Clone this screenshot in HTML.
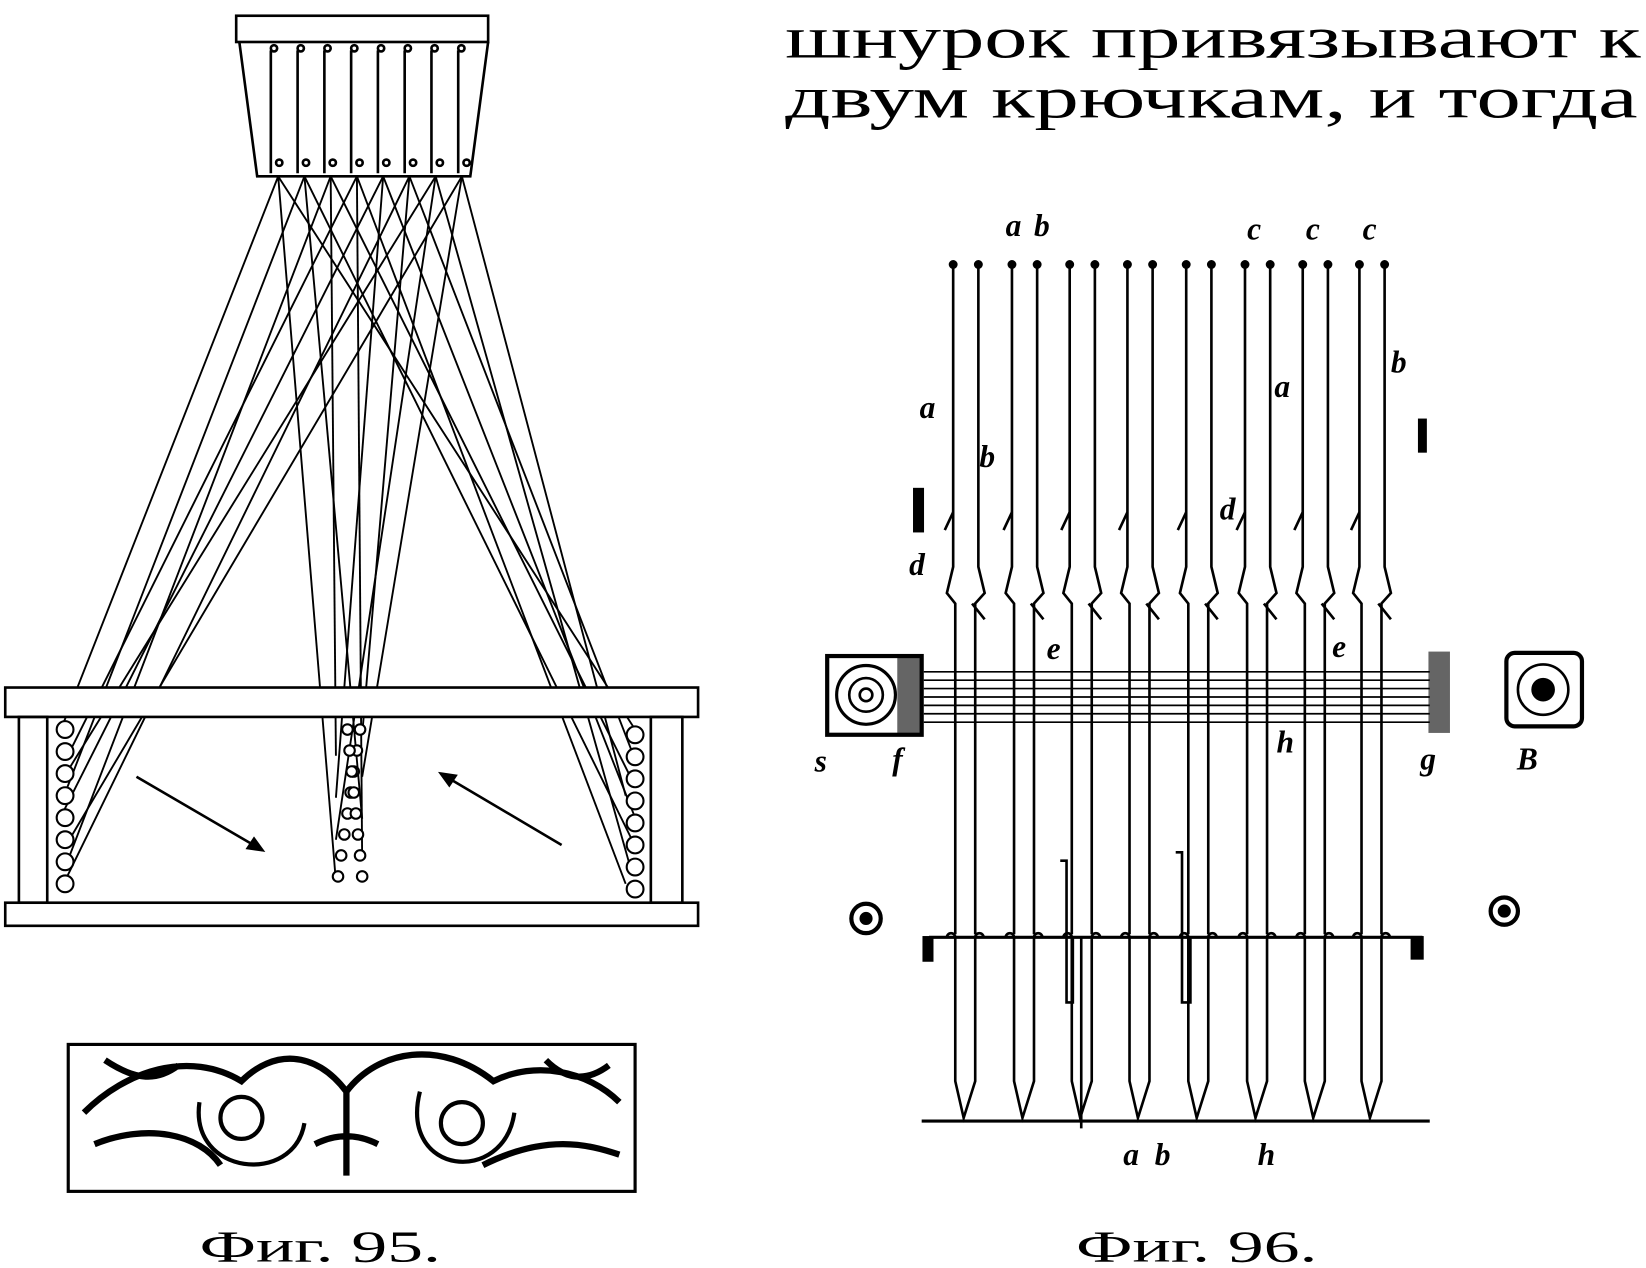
<!DOCTYPE html>
<html><head><meta charset="utf-8"><style>
html,body{margin:0;padding:0;background:#fff;}
svg{display:block;}
text{font-family:"Liberation Serif",serif;fill:#000;}
.it{font-family:"Liberation Sans",sans-serif;font-style:italic;font-weight:bold;}
</style></head><body>
<svg id="s" width="1646" height="1268" viewBox="0 0 1568 1208" preserveAspectRatio="none" xmlns="http://www.w3.org/2000/svg">
<g stroke="#000" fill="none" stroke-width="2.5">
<rect x="225" y="15" width="240" height="25"/>
<path d="M228 40 L245 168 L448 168 L465 40"/>
<g id="hooks"></g>
<g id="threads" stroke-width="1.8"></g>
<rect x="5" y="655" width="660" height="28" fill="#fff"/>
<rect x="18" y="683" width="27" height="177"/>
<rect x="620" y="683" width="30" height="177"/>
<rect x="5" y="860" width="660" height="22" fill="#fff"/>
<g id="circles" stroke-width="2"></g>
<line x1="130" y1="740" x2="250" y2="810"/>
<path d="M250 810 l-14 -2 l6 -9z" fill="#000"/>
<line x1="535" y1="805" x2="420" y2="737"/>
<path d="M420 737 l14 2 l-6 9z" fill="#000"/>
<rect x="65" y="995" width="540" height="140" stroke-width="3"/>
<path d="M80 1060 C120 1020 180 1000 230 1030 C260 1000 300 1000 330 1040 C360 1000 420 990 470 1030 C510 1010 560 1020 590 1050 M90 1090 C140 1070 190 1080 210 1110 M330 1040 L330 1120 M460 1110 C520 1080 560 1090 590 1100 M100 1010 C130 1030 150 1030 170 1015 M520 1010 C540 1030 560 1030 580 1015 M300 1090 C320 1080 340 1080 360 1090" stroke-width="6"/>
<circle cx="230" cy="1065" r="20" stroke-width="4"/>
<circle cx="440" cy="1070" r="20" stroke-width="4"/>
<path d="M190 1050 C180 1120 280 1130 290 1070 M400 1040 C380 1120 480 1130 490 1060" stroke-width="4"/>
<g id="needles"></g>
<g stroke-width="1.6">
<line x1="880" y1="640" x2="1362" y2="640"/>
<line x1="880" y1="648" x2="1362" y2="648"/>
<line x1="880" y1="656" x2="1362" y2="656"/>
<line x1="880" y1="664" x2="1362" y2="664"/>
<line x1="880" y1="672" x2="1362" y2="672"/>
<line x1="880" y1="680" x2="1362" y2="680"/>
<line x1="880" y1="688" x2="1362" y2="688"/>
</g>
<rect x="788" y="625" width="90" height="75" stroke-width="4"/>
<circle cx="825" cy="662" r="28" stroke-width="3"/><circle cx="825" cy="662" r="16"/><circle cx="825" cy="662" r="6"/>
<rect x="856" y="625" width="22" height="75" fill="#000" opacity=".6"/>
<rect x="1362" y="622" width="18" height="75" fill="#000" opacity=".6"/>
<rect x="1435" y="622" width="72" height="70" rx="8" stroke-width="4"/>
<circle cx="1470" cy="657" r="24"/><circle cx="1470" cy="657" r="10" fill="#000"/>
<circle cx="825" cy="875" r="14" stroke-width="4"/><circle cx="825" cy="875" r="5" fill="#000"/>
<circle cx="1433" cy="868" r="13" stroke-width="4"/><circle cx="1433" cy="868" r="5" fill="#000"/>
<rect x="871" y="466" width="8" height="40" fill="#000"/>
<rect x="1352" y="400" width="6" height="30" fill="#000"/>
<line x1="878" y1="1068" x2="1362" y2="1068" stroke-width="3"/>
<line x1="885" y1="893" x2="1355" y2="893" stroke-width="3"/>
<rect x="880" y="893" width="8" height="22" fill="#000"/>
<rect x="1345" y="893" width="10" height="20" fill="#000"/>
</g>
<text x="748" y="55" font-size="56" textLength="815" lengthAdjust="spacingAndGlyphs">шнурок привязывают к</text>
<text x="748" y="112" font-size="56" textLength="812" lengthAdjust="spacingAndGlyphs">двум крючкам, и тогда</text>
<text x="190" y="1202" font-size="42" textLength="230" lengthAdjust="spacingAndGlyphs">Фиг. 95.</text>
<text x="1025" y="1202" font-size="42" textLength="230" lengthAdjust="spacingAndGlyphs">Фиг. 96.</text>
<g class="it" font-size="30">
<text x="958" y="225">a</text><text x="985" y="225">b</text>
<text x="1188" y="228">c</text><text x="1244" y="228">c</text><text x="1298" y="228">c</text>
<text x="876" y="398">a</text><text x="933" y="445">b</text>
<text x="1214" y="378">a</text><text x="1325" y="355">b</text>
<text x="866" y="548">d</text><text x="1162" y="495">d</text>
<text x="997" y="628">e</text><text x="1269" y="626">e</text>
<text x="1216" y="717">h</text>
<text x="776" y="735">s</text><text x="850" y="733">f</text>
<text x="1353" y="733">g</text><text x="1445" y="733">B</text>
<text x="1070" y="1110">a</text><text x="1100" y="1110">b</text><text x="1198" y="1110">h</text>
</g>
</svg>
<script>
var NS="http://www.w3.org/2000/svg";
function el(p,t,a){var e=document.createElementNS(NS,t);for(var k in a)e.setAttribute(k,a[k]);document.getElementById(p).appendChild(e);return e;}
for(var i=0;i<8;i++){var x=258+25.5*i;
el("hooks","line",{x1:x,y1:48,x2:x,y2:165});
el("hooks","circle",{cx:x+3,cy:46,r:3});
el("hooks","circle",{cx:x+8,cy:155,r:3});}
for(var k=0;k<8;k++){
el("circles","circle",{cx:62,cy:695+21*k,r:8,fill:"#fff"});
el("circles","circle",{cx:605,cy:700+21*k,r:8,fill:"#fff"});
el("circles","circle",{cx:322+3*k,cy:835-20*k,r:5,fill:"#fff"});
el("circles","circle",{cx:345-2*k,cy:835-20*k,r:5,fill:"#fff"});}
for(var i=0;i<8;i++){var x=265+25*i;
el("threads","line",{x1:x,y1:168,x2:60+(i%4)*3,y2:690+21*((i*3)%8)});
el("threads","line",{x1:x,y1:168,x2:605-(i%4)*3,y2:695+21*((i*5)%8)});
el("threads","line",{x1:x,y1:168,x2:320+(i%2)*25,y2:840-20*((i*3)%8)});}
var X=[908,964,1019,1074,1130,1186,1241,1295];
for(var i=0;i<8;i++){var a=X[i],b=a+24;
el("needles","path",{d:"M"+a+" 255 L"+a+" 540 L"+(a-6)+" 565 L"+(a+2)+" 575 L"+(a+2)+" 890 M"+b+" 255 L"+b+" 540 L"+(b+6)+" 565 L"+(b-3)+" 575 L"+(b-3)+" 890"});
el("needles","circle",{cx:a,cy:252,r:3,fill:"#000"});
el("needles","circle",{cx:b,cy:252,r:3,fill:"#000"});
el("needles","path",{d:"M"+(a-8)+" 505 L"+a+" 488 M"+(b-6)+" 575 L"+(b+6)+" 590"});
el("needles","path",{d:"M"+(a+2)+" 893 L"+(a+2)+" 1030 L"+(a+10)+" 1065 L"+(b-3)+" 1030 L"+(b-3)+" 893",fill:"none"});
el("needles","path",{d:"M"+(a-6)+" 893 a4 4 0 0 1 8 0 M"+(b-3)+" 893 a4 4 0 0 1 8 0"});}
el("needles","path",{d:"M1010 820 L1016 820 L1016 955 L1022 955 L1022 893"});
el("needles","path",{d:"M1120 812 L1126 812 L1126 955 L1134 955 L1134 893"});
el("needles","line",{x1:1030,y1:893,x2:1030,y2:1075});
</script>
</body></html>
